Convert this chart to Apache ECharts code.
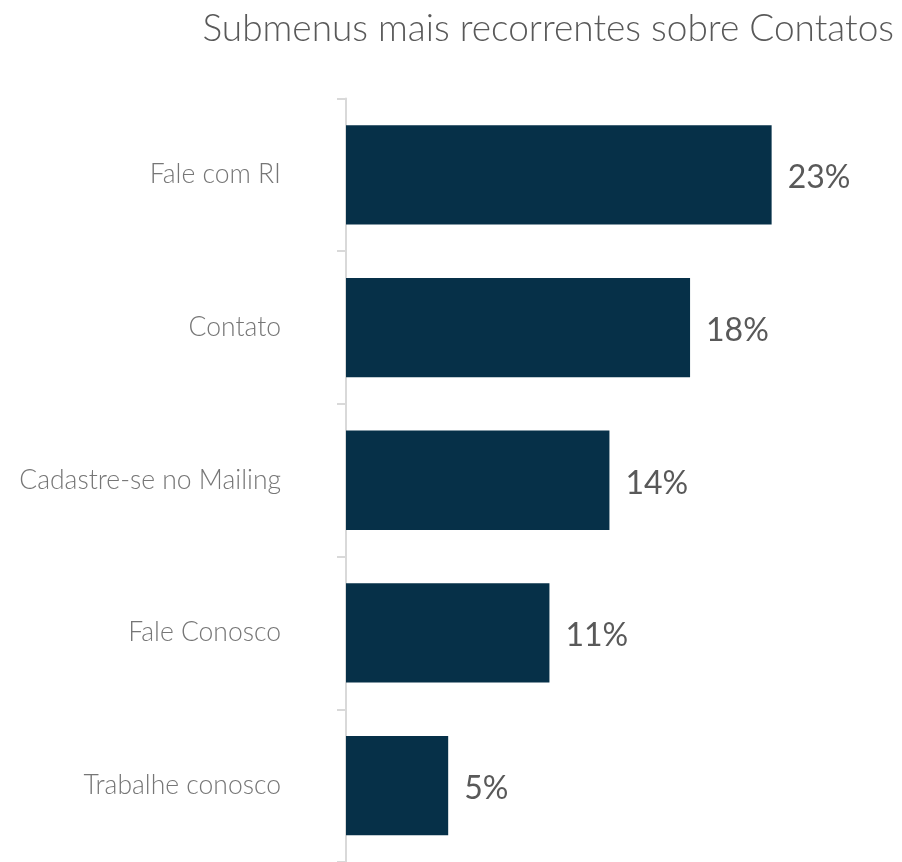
<!DOCTYPE html>
<html>
<head>
<meta charset="utf-8">
<script src="https://cdn.jsdelivr.net/npm/echarts@6/dist/echarts.min.js"></script>
<style>
  html, body { margin: 0; padding: 0; background: #fff; }
  #chart { width: 902px; height: 862px; }
</style>
</head>
<body>
<div id="chart"></div>
<script>
// categorias (de cima para baixo)
const categorias = ["Fale com RI", "Contato", "Cadastre-se no Mailing", "Fale Conosco", "Trabalhe conosco"];
// percentuais
const valores = [22.7, 18.35, 14.05, 10.85, 5.45];

const myChart = echarts.init(document.getElementById("chart"));

myChart.setOption({
  title: {
    text: "Submenus mais recorrentes sobre Contatos",
    right: 3,
    top: 6,
    textStyle: {
      fontFamily: "Lato",
      fontWeight: 300,
      fontSize: 37,
      color: "#595959",
    },
  },
  grid: {
    left: 346,
    top: 98.5,
    width: 468.75,
    height: 766,
    containLabel: false,
  },
  xAxis: {
    type: "value",
    min: 0,
    max: 25,
    show: false,
  },
  yAxis: {
    type: "category",
    inverse: true,
    data: categorias,
    axisLine: { lineStyle: { color: "#d9d9d9", width: 2 } },
    axisTick: { show: true, length: 9, lineStyle: { color: "#d9d9d9", width: 2 } },
    axisLabel: {
      margin: 65,
      padding: [5, 0, 0, 0],
      fontFamily: "Lato",
      fontWeight: 300,
      fontSize: 26.5,
      color: "#767676",
    },
  },
  series: [
    {
      name: "Contatos",
      type: "bar",
      data: valores,
      barCategoryGap: "35%",
      itemStyle: { color: "#063048" },
      label: {
        show: true,
        position: "right",
        distance: 16,
        offset: [0, 3],
        formatter: (p) => Math.round(p.value) + "%",
        fontFamily: "Lato",
        fontSize: 32,
        color: "#595959",
      },
    },
  ],
  textStyle: { fontFamily: "Lato" },
});
</script>
</body>
</html>
